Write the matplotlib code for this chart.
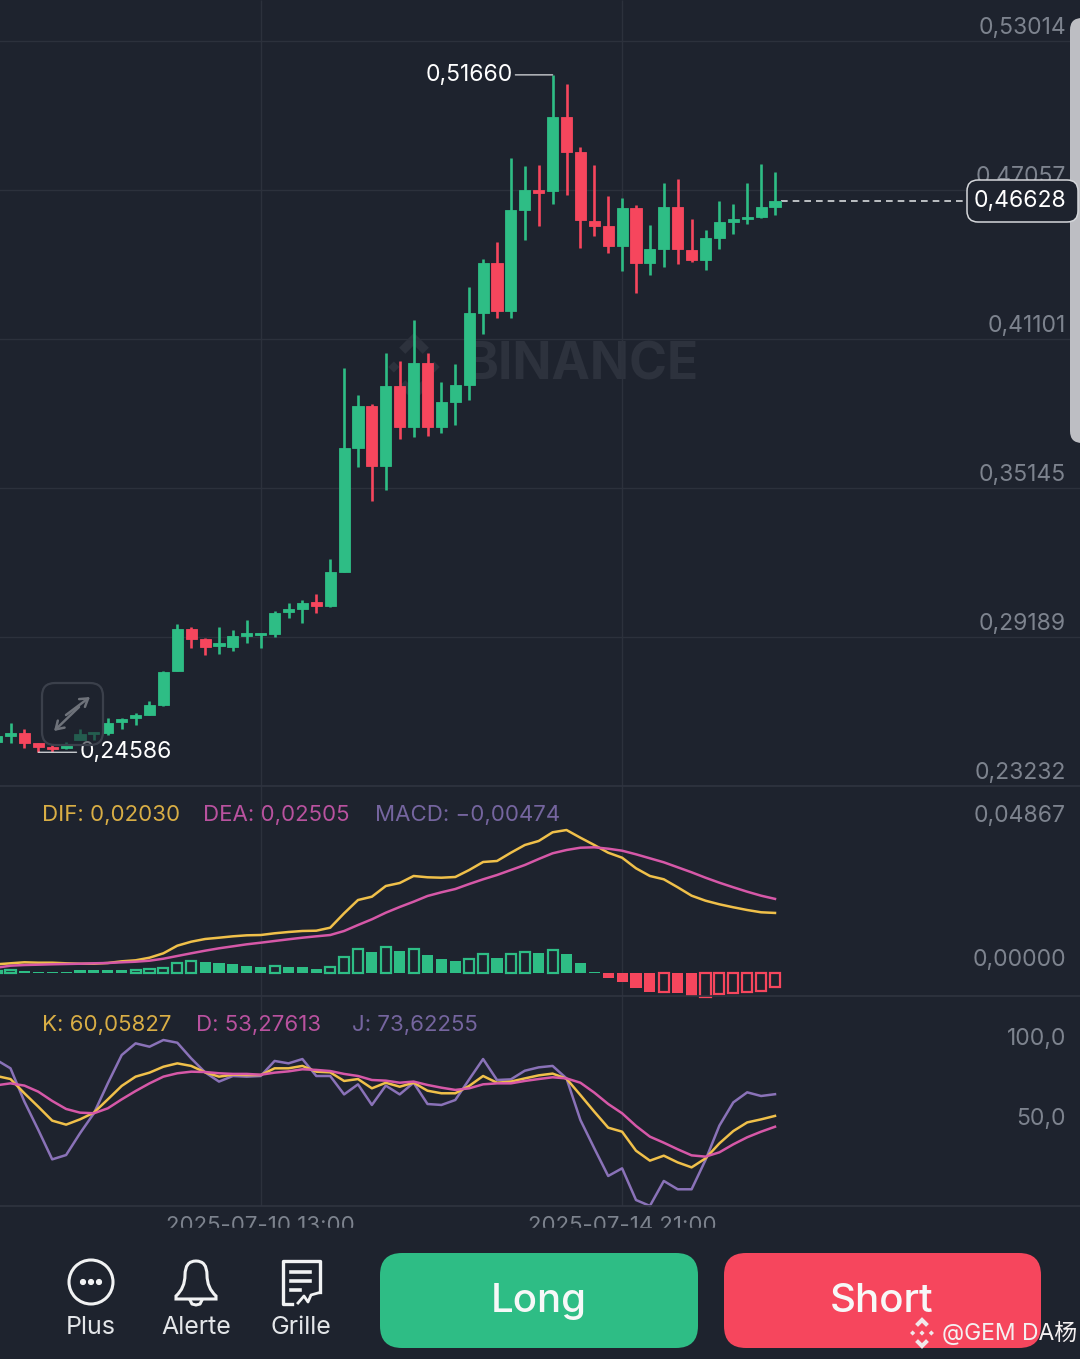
import numpy as np
import matplotlib
matplotlib.use('Agg')
import matplotlib.pyplot as plt
from matplotlib.patches import FancyBboxPatch, Circle, Polygon, PathPatch, Rectangle
from matplotlib.path import Path

# candles
opens = [.2498,.2522,.2534,.2494,.2478,.2474,.2506,.2530,.2534,.2578,.2594,.2606,.2646,.2782,.2950,.2910,.2882,.2878,.2922,.2926,
         .2930,.3018,.3030,.3058,.3042,.3178,.3674,.3842,.3602,.3922,.3758,.4014,.3758,.3858,.3926,.4214,.4414,.4222,.4626,.4706,
         .4702,.4998,.4858,.4582,.4562,.4482,.4634,.4414,.4470,.4638,.4466,.4426,.4514,.4578,.4590,.4598,.4638]
highs = [.2534,.2574,.2550,.2494,.2490,.2498,.2550,.2538,.2594,.2594,.2614,.2662,.2782,.2970,.2958,.2914,.2958,.2946,.2986,.2934,
         .3022,.3054,.3066,.3090,.3230,.3994,.3886,.3850,.4054,.4022,.4186,.4054,.3938,.4010,.4318,.4430,.4498,.4834,.4802,.4806,
         .5166,.5130,.4878,.4806,.4682,.4674,.4646,.4566,.4734,.4750,.4590,.4546,.4662,.4650,.4734,.4810,.4778]
lows = [.2490,.2494,.2474,.2458,.24586,.2470,.2506,.2506,.2526,.2550,.2566,.2606,.2642,.2782,.2874,.2846,.2850,.2862,.2894,.2874,
        .2918,.2994,.2974,.3014,.3038,.3178,.3598,.3462,.3506,.3710,.3718,.3722,.3734,.3766,.3866,.4130,.4194,.4194,.4506,.4562,
        .4650,.4686,.4474,.4522,.4454,.4382,.4294,.4366,.4398,.4410,.4418,.4386,.4470,.4530,.4570,.4594,.4606]
closes = [.2522,.2534,.2494,.2478,.2470,.2490,.2530,.2538,.2574,.2590,.2606,.2646,.2778,.2950,.2910,.2878,.2894,.2922,.2934,.2934,
          .3014,.3030,.3054,.3042,.3178,.3674,.3842,.3602,.3922,.3758,.4014,.3758,.3858,.3926,.4214,.4414,.4222,.4626,.4706,.4694,
          .4998,.4858,.4586,.4562,.4482,.4634,.4414,.4470,.4638,.4470,.4426,.4514,.4578,.4590,.4598,.4638,.46628]

dif = [.00294,.00328,.00362,.00348,.00348,.00328,.00314,.00314,.00338,.00395,.00429,.00517,.00666,.00923,.01058,.01149,.01193,.01240,.01274,.01284,
       .01342,.01386,.01420,.01430,.01531,.02018,.02467,.02579,.02941,.03042,.03279,.03235,.03221,.03245,.03481,.03752,.03786,.04066,.04326,.04462,
       .04756,.04833,.04573,.04326,.04066,.03897,.03539,.03279,.03167,.02897,.02613,.02444,.02322,.02221,.02129,.02052,.02030]
dea = [.00179,.00247,.00270,.00281,.00294,.00304,.00314,.00328,.00338,.00362,.00382,.00416,.00483,.00575,.00666,.00754,.00835,.00902,.00970,.01024,
       .01082,.01139,.01193,.01240,.01284,.01420,.01622,.01815,.02038,.02231,.02410,.02603,.02728,.02839,.03008,.03167,.03312,.03481,.03650,.03853,
       .04046,.04157,.04235,.04249,.04201,.04134,.04012,.03877,.03742,.03573,.03404,.03221,.03052,.02897,.02748,.02613,.02505]
macd = [.0007,.0010,.0007,.0003,.0003,.0003,.0010,.0010,.0010,.0010,.0010,.0014,.0017,.0034,.0041,.0037,.0034,.0030,.0024,.0020,
        .0024,.0020,.0020,.0014,.0020,.0054,.0081,.0071,.0088,.0074,.0081,.0061,.0047,.0041,.0047,.0064,.0051,.0064,.0071,.0068,
        .0078,.0064,.0034,.0004,-.0017,-.0030,-.0051,-.0064,-.0064,-.0068,-.0078,-.0081,-.0071,-.0068,-.0064,-.0061,-.00474]
macd_hollow = [1,1,0,0,0,0,0,0,0,0,1,1,1,1,1,0,0,0,0,0,
               1,0,0,0,1,1,1,0,1,0,1,0,0,0,1,1,0,1,1,0,
               1,0,0,0,0,0,0,0,1,0,0,1,1,1,1,1,1]

k_line = [85.0,83.1,74.2,65.8,57.1,54.6,57.9,62.1,70.4,78.8,84.6,87.1,90.8,92.9,91.3,87.3,84.6,85.8,85.6,85.6,
          89.8,89.8,91.3,87.7,87.3,81.9,83.1,77.3,80.8,78.3,80.8,75.8,74.2,74.2,78.8,85.0,80.8,81.5,83.5,85.4,
          86.5,83.3,73.1,62.7,52.7,50.2,38.3,32.1,35.2,31.0,27.9,33.5,42.9,50.6,56.0,57.9,60.06]
d_line = [79.2,80.4,79.0,75.2,69.4,64.4,62.1,61.7,64.8,70.4,75.6,80.4,84.6,86.7,87.7,87.5,86.7,86.3,86.3,85.8,
          87.1,87.9,89.2,88.8,88.1,86.3,85.0,82.5,82.1,80.8,81.5,79.4,77.7,76.3,77.3,79.8,80.4,80.4,81.9,83.1,
          84.2,83.5,80.8,74.6,67.5,61.7,53.8,47.1,43.3,39.2,35.4,34.6,37.3,42.3,46.7,50.2,53.28]
j_line = [95.0,89.8,69.0,51.3,32.9,35.6,49.2,61.7,80.4,98.1,105.4,103.3,107.5,105.8,96.0,87.3,81.5,85.0,84.6,85.0,
          94.4,92.9,95.6,85.0,85.0,73.5,79.8,66.9,79.0,73.5,80.8,67.5,66.9,70.0,82.9,95.6,82.5,82.9,88.3,90.4,
          91.3,83.5,57.5,39.8,22.5,27.3,7.5,3.8,19.4,14.2,14.2,32.5,54.0,68.5,74.8,72.5,73.62]

price_ticks = [.53014,.47057,.41101,.35145,.29189,.23232]
price_tick_labels = ['0,53014','0,47057','0,41101','0,35145','0,29189','0,23232']
macd_ticks = [.04867,0]
macd_tick_labels = ['0,04867','0,00000']
kdj_ticks = [100,50]
kdj_tick_labels = ['100,0','50,0']
date_index = [19,45]
date_labels = ['2025-07-10 13:00','2025-07-14 21:00']

BG = '#1e232e'
GRID = '#2c313c'
GREEN = '#2ebd85'
RED = '#f6465d'
TICK = '#7d838e'
YEL = '#f0c04a'
PINK = '#d658a8'
PURP = '#8a72b8'
YEL_T = '#d9ae45'
PINK_T = '#b9529f'
PURP_T = '#75659f'
FONT = ['Inter', 'Noto Sans CJK SC', 'DejaVu Sans']
plt.rcParams['font.family'] = FONT

W, H = 1080, 1359
# candle spacing on screen
STEP = 13.9
X0 = -3.4
xlim = ((0 - X0) / STEP, (W - X0) / STEP)


def panel(top, bottom, ylim):
    ax = fig.add_axes([0, 1 - bottom / H, 1, (bottom - top) / H], zorder=2)
    ax.set_xlim(xlim)
    ax.set_ylim(ylim)
    ax.patch.set_alpha(0)
    for s in ax.spines.values():
        s.set_visible(False)
    ax.set_xticks([])
    ax.set_yticks([])
    ax.tick_params(length=0, labelleft=False)
    ax.vlines(date_index, ylim[0], ylim[1], color=GRID, lw=1, zorder=1)
    return ax


def ticks(ax, vals, labels, grid=False):
    for v, t in zip(vals, labels):
        if grid:
            ax.axhline(v, color=GRID, lw=1, zorder=1)
        ax.annotate(t, xy=(1066 / W, v), xycoords=ax.get_yaxis_transform(), xytext=(0, 13),
                    textcoords='offset pixels', ha='right', va='center', color=TICK, fontsize=16.5,
                    annotation_clip=False)


def pixel_axes(z):
    ax = fig.add_axes([0, 0, 1, 1], zorder=z)
    ax.set_xlim(0, W)
    ax.set_ylim(H, 0)
    ax.axis('off')
    return ax


def round_box(ax, x0, y0, x1, y1, r, **kw):
    p = FancyBboxPatch((x0 + r, y0 + r), x1 - x0 - 2 * r, y1 - y0 - 2 * r,
                       boxstyle='round,pad=%f,rounding_size=%f' % (r, r), **kw)
    ax.add_patch(p)
    return p


def binance_logo(ax, cx, cy, r, color, z=1):
    s = r * .2
    for dx, dy in [(0, 0), (-r * .72, 0), (r * .72, 0)]:
        ax.add_patch(Polygon([(cx + dx - s, cy + dy), (cx + dx, cy + dy - s), (cx + dx + s, cy + dy), (cx + dx, cy + dy + s)],
                             color=color, lw=0, zorder=z))
    t = r * .16
    for sign in [-1, 1]:
        ax.plot([cx - r * .42, cx, cx + r * .42],
                [cy + sign * r * .58, cy + sign * r, cy + sign * r * .58],
                color=color, lw=t * 1.4, solid_joinstyle='miter', solid_capstyle='butt', zorder=z)


fig = plt.figure(figsize=(W / 100, H / 100), dpi=100, facecolor=BG)

under = pixel_axes(0)
under.text(582, 366, 'BINANCE', color='#2d323d', fontsize=37, fontweight='bold', ha='center', va='center')
binance_logo(under, 414, 367, 28, '#2d323d')

# price panel
slope = (.53014 - .23232) / (786 - 41)
ax = panel(0, 786, (.23232, .53014 + 41 * slope))
ticks(ax, price_ticks, price_tick_labels, grid=True)
x = np.arange(len(closes))
colors = [GREEN if c >= o else RED for o, c in zip(opens, closes)]
ax.vlines(x, lows, highs, color=colors, lw=1.9, zorder=3)
ax.bar(x, np.abs(np.array(closes) - np.array(opens)), bottom=np.minimum(opens, closes), width=.8,
       color=colors, edgecolor=colors, lw=.6, zorder=4)
last = closes[-1]
ax.hlines(last, x[-1] + .4, (967 - X0) / STEP, color='#d8dadd', lw=1.2, linestyles=(0, (4, 3)), zorder=2)
hi_i = int(np.argmax(highs))
lo_i = int(np.argmin(lows))
ax.annotate('0,51660', xy=(hi_i, highs[hi_i]), xytext=(-40, 0), textcoords='offset pixels', ha='right', va='center',
            color='white', fontsize=16.5, zorder=6,
            arrowprops=dict(arrowstyle='-', color='#c9ccd0', lw=1, shrinkA=0, shrinkB=0))
ax.annotate('0,24586', xy=(lo_i, lows[lo_i]), xytext=(41, 0), textcoords='offset pixels', ha='left', va='center',
            color='white', fontsize=16.5, zorder=6,
            arrowprops=dict(arrowstyle='-', color='#c9ccd0', lw=1, shrinkA=0, shrinkB=0))

# macd panel
unit = .000338
ax2 = panel(786, 996, ((973 - 996) * unit, (973 - 786) * unit))
ticks(ax2, macd_ticks, macd_tick_labels)
for i, v in enumerate(macd):
    col = GREEN if v >= 0 else RED
    if macd_hollow[i]:
        ax2.bar(i, v, width=.72, facecolor='none', edgecolor=col, lw=1.6, zorder=3, clip_on=False)
    else:
        ax2.bar(i, v, width=.8, color=col, zorder=3, clip_on=False)
ax2.plot(x, dif, color=YEL, lw=1.8, zorder=4)
ax2.plot(x, dea, color=PINK, lw=1.8, zorder=5)

# kdj panel
ax3 = panel(996, 1206, ((1212 - 1206) / 1.6, (1212 - 996) / 1.6))
ticks(ax3, kdj_ticks, kdj_tick_labels)
ax3.plot(x, j_line, color=PURP, lw=1.8, zorder=3, clip_on=False)
ax3.plot(x, k_line, color=YEL, lw=1.8, zorder=4)
ax3.plot(x, d_line, color=PINK, lw=1.8, zorder=5)

ov = pixel_axes(5)
for yy in [786, 996, 1206]:
    ov.plot([0, W], [yy, yy], color='#2f3440', lw=1.2, zorder=1)

for lab, px, col, yy in [('DIF: 0,02030', 42, YEL_T, 815), ('DEA: 0,02505', 203, PINK_T, 815), ('MACD: −0,00474', 375, PURP_T, 815),
                         ('K: 60,05827', 42, YEL_T, 1025), ('D: 53,27613', 196, PINK_T, 1025), ('J: 73,62255', 352, PURP_T, 1025)]:
    ov.text(px, yy, lab, color=col, fontsize=16, ha='left', va='center')

for i, t in zip(date_index, date_labels):
    ov.text(X0 + STEP * i, 1226, t, color=TICK, fontsize=16, ha='center', va='center', zorder=2)
ov.add_patch(Rectangle((0, 1228), W, H - 1228, color=BG, zorder=3))

# scrollbar and last price tag
round_box(ov, 1070, 18, 1100, 443, 12, facecolor='#bdbec3', edgecolor='none', zorder=4)
round_box(ov, 967, 180, 1078, 222, 11, facecolor=BG, edgecolor='#d5d7db', lw=1.1, zorder=5)
ov.text(1066, 201, '0,46628', color='white', fontsize=16.5, ha='right', va='center', zorder=6)

# expand button
round_box(ov, 42, 683, 103, 745, 13, facecolor=BG, alpha=.62, edgecolor='none', zorder=4)
round_box(ov, 42, 683, 103, 745, 13, facecolor='none', edgecolor='#3b404b', lw=1.6, zorder=5)
for a, b in [((66, 715), (90, 697)), ((79, 707), (54, 731))]:
    ov.annotate('', xy=b, xytext=a, zorder=6,
                arrowprops=dict(arrowstyle='->,head_length=.55,head_width=.35', color='#6e727a', lw=1.8, shrinkA=0, shrinkB=0))

# bottom bar
WHITE = '#f1f2f3'
ov.add_patch(Circle((91, 1282), 22, fill=False, edgecolor=WHITE, lw=2.2, zorder=6))
for dx in [-8, 0, 8]:
    ov.add_patch(Circle((91 + dx, 1282), 2.4, color=WHITE, zorder=6))
bell = Path([(176, 1296), (185, 1288), (185, 1275), (185, 1261), (196, 1261), (207, 1261), (207, 1275), (207, 1288), (216, 1296), (216, 1299), (176, 1299), (176, 1296)],
            [Path.MOVETO, Path.CURVE3, Path.CURVE3, Path.CURVE3, Path.CURVE3, Path.CURVE3, Path.CURVE3, Path.CURVE3, Path.CURVE3, Path.LINETO, Path.LINETO, Path.CLOSEPOLY])
ov.add_patch(PathPatch(bell, fill=False, edgecolor=WHITE, lw=2.2, zorder=6))
ov.plot([190, 192, 196, 200, 202], [1300, 1304, 1305, 1304, 1300], color=WHITE, lw=2.2, zorder=6)
ov.plot([292, 283, 283, 320, 320], [1304, 1304, 1261, 1261, 1292], color=WHITE, lw=2.4, zorder=6)
for y0, x1 in [(1272, 310), (1281, 310), (1290, 300)]:
    ov.plot([291, x1], [y0, y0], color=WHITE, lw=2.6, zorder=6)
ov.plot([298, 304, 308, 311, 318], [1303, 1296, 1302, 1295, 1293], color=WHITE, lw=2, zorder=6)
for lab, px in [('Plus', 91), ('Alerte', 196), ('Grille', 301)]:
    ov.text(px, 1328, lab, color='#e3e5e8', fontsize=18, ha='center', va='center', zorder=6)

round_box(ov, 380, 1253, 698, 1348, 22, facecolor=GREEN, edgecolor='none', zorder=5)
round_box(ov, 724, 1253, 1041, 1348, 22, facecolor=RED, edgecolor='none', zorder=5)
ov.text(539, 1301, 'Long', color='#f7f8f8', fontsize=29, fontweight='medium', ha='center', va='center', zorder=6)
ov.text(882, 1301, 'Short', color='#f7f8f8', fontsize=29, fontweight='medium', ha='center', va='center', zorder=6)
binance_logo(ov, 922, 1333, 13, '#f1e8ea', z=7)
ov.text(942, 1333, '@GEM DA杨', color='#f4f0f1', fontsize=16.5, ha='left', va='center', zorder=7)

fig.savefig('out.png', dpi=100, facecolor=BG)
